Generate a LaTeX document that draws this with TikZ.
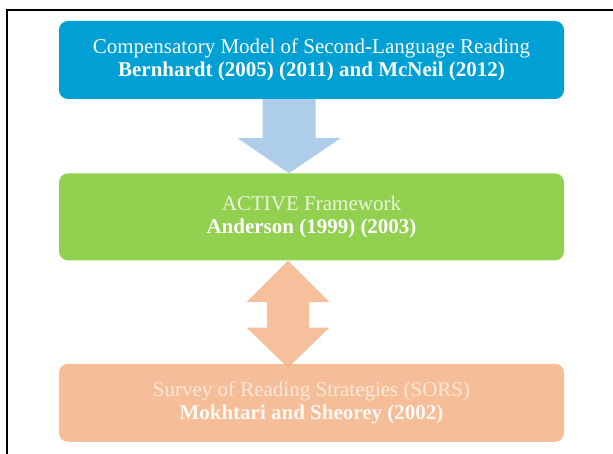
\documentclass[tikz,border=0pt]{standalone}
\usepackage{fontspec}
\setmainfont{Liberation Serif}
\usepackage{tikz}
\usetikzlibrary{positioning,calc}
\definecolor{boxblue}{RGB}{0,159,212}
\definecolor{boxgreen}{RGB}{146,208,80}
\definecolor{boxorange}{RGB}{245,190,152}
\definecolor{arrowblue}{RGB}{174,205,235}
\definecolor{arroworange}{RGB}{242,176,130}

\begin{document}
\begin{tikzpicture}[x=1pt, y=-1pt,
	box/.style={rounded corners=9pt, minimum width=505pt, minimum height=78pt, inner sep=2pt, align=center, text=white, font=\fontsize{21}{22.5}\selectfont},
	every node/.style={}]
			\useasboundingbox (0,0) rectangle (613,454);
			\draw[line width=2pt] (7,454) -- (7,10) -- (613,10);
			
			\node[box, fill=boxblue] (model) at (311.5,60) {Compensatory Model of Second-Language Reading\\ \textbf{Bernhardt (2005) (2011) and McNeil (2012)}};
			\node[box, fill=boxgreen, minimum height=87pt, below=74pt of model] (active) {\textcolor{white!80!boxgreen}{ACTIVE Framework}\\ \textbf{Anderson (1999) (2003)}};
			\node[box, fill=boxorange, below=103pt of active] (sors) {\textcolor{white!65!boxorange}{Survey of Reading Strategies (SORS)}\\ \textbf{\textcolor{white!90!boxorange}{Mokhtari and Sheorey (2002)}}};
			
			% arrow from the model down to the framework
			\coordinate (top1) at ($(model.south)+(-22.5,0)$);
			\coordinate (tip1) at ($(active.north)+(-22.5,0)$);
			\fill[arrowblue] (top1) ++(-26.5,0) -- ++(0,39) -- ++(-25,0) -- (tip1) -- ++(51.5,-35) -- ++(-25,0) -- ++(0,-39) -- cycle;
			
			% two-way arrow between the framework and the survey
			\coordinate (tip2) at ($(active.south)+(-23.5,0)$);
			\coordinate (tip3) at ($(sors.north)+(-23.5,4)$);
			\fill[arroworange, opacity=0.8] (tip2) -- ++(41.5,41.5) -- ++(-20.5,0) -- ++(0,25.5) -- ++(20.5,0) -- (tip3) -- ++(-41.5,-40) -- ++(20.5,0) -- ++(0,-25.5) -- ++(-20.5,0) -- cycle;
		\end{tikzpicture}
\end{document}
